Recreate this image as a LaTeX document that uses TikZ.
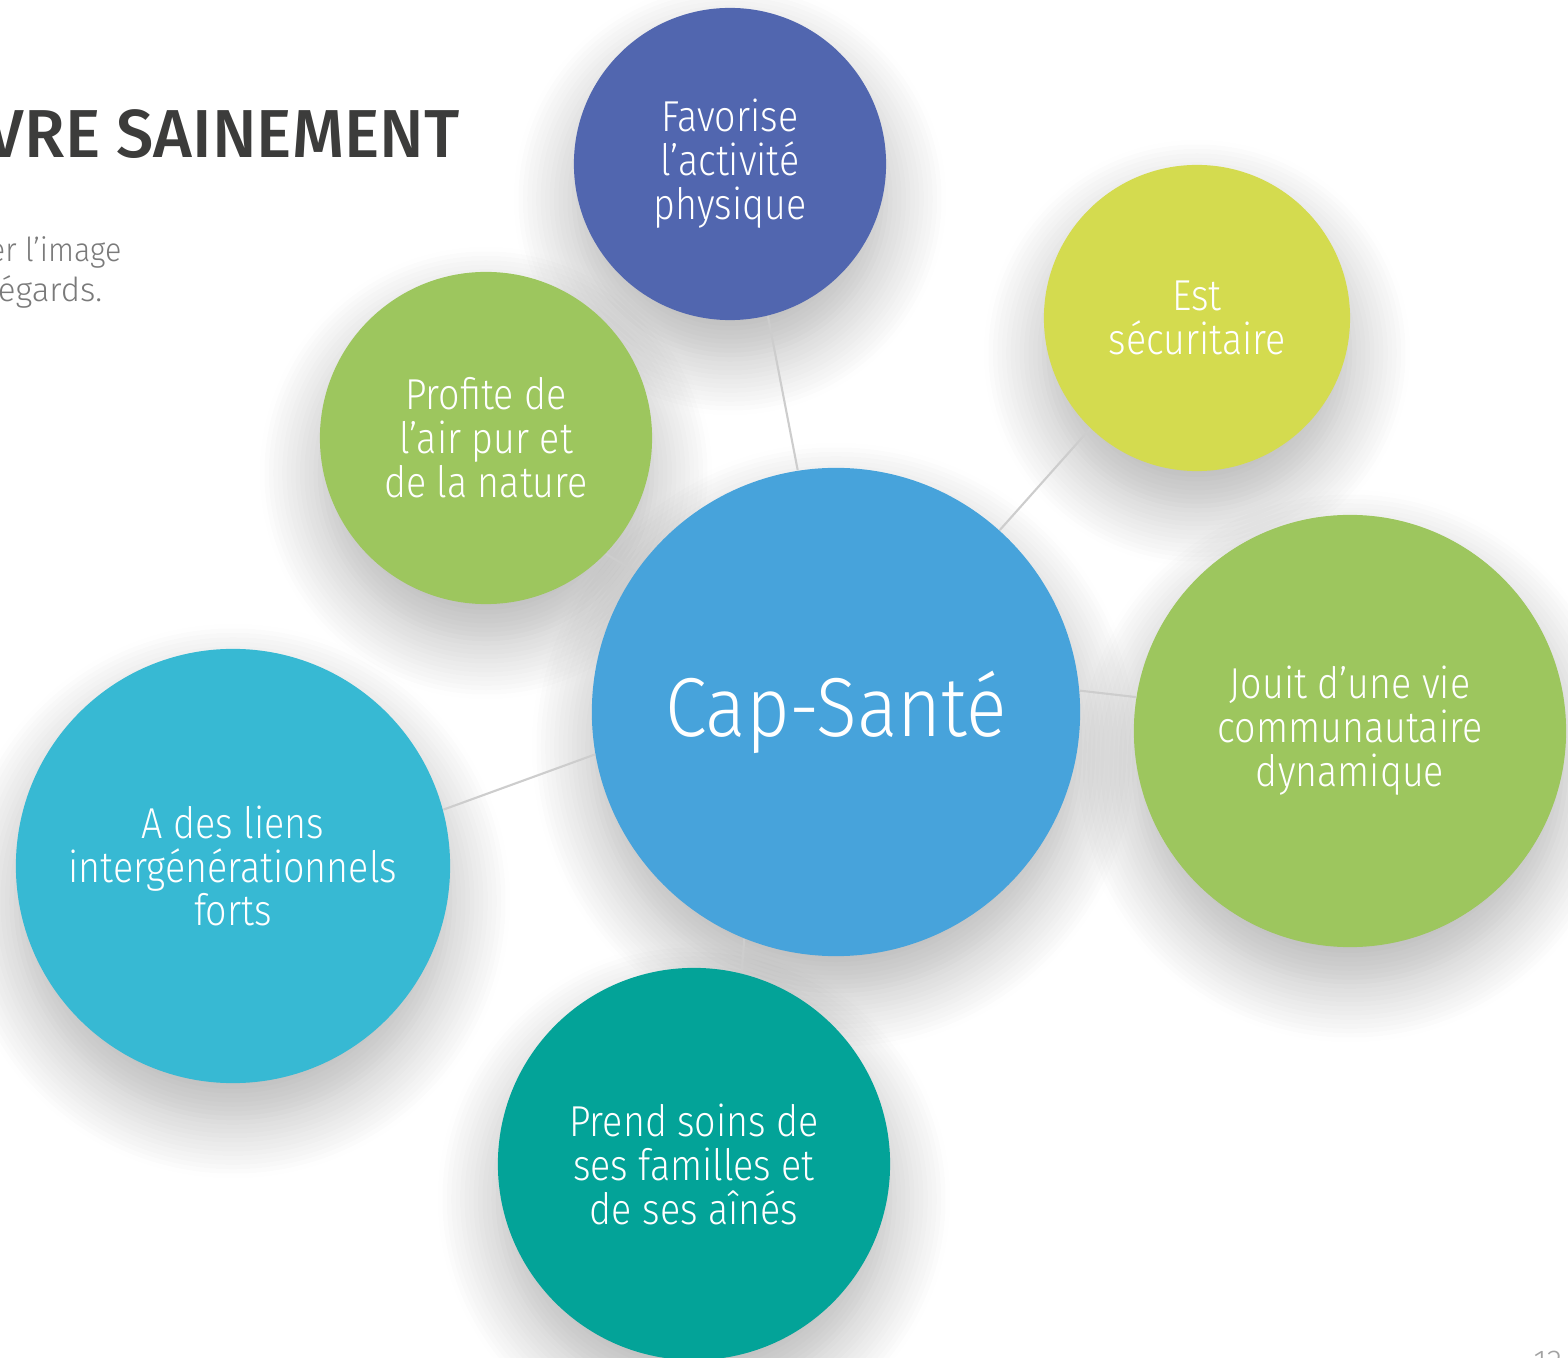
\documentclass[tikz,border=0pt]{standalone}
\usepackage{fontspec}
\setmainfont{Fira Sans}
\newfontfamily\lightfont{Fira Sans Light}[FakeStretch=0.87]
\newfontfamily\capfont{Fira Sans Light}[FakeStretch=0.9]
\newfontfamily\subfont{Fira Sans Light}
\newfontfamily\subfontn{Fira Sans Light}[FakeStretch=0.92]
\newfontfamily\titlefont{Fira Sans Medium}[FakeStretch=0.98]
\usetikzlibrary{shadows.blur}
\pgfdeclarelayer{shadowlayer}
\pgfdeclarelayer{linelayer}
\pgfsetlayers{shadowlayer,linelayer,main}
\definecolor{cfav}{HTML}{5166AF}
\definecolor{cest}{HTML}{D4DB4F}
\definecolor{cgreen}{HTML}{9DC65E}
\definecolor{ccap}{HTML}{47A3DB}
\definecolor{cliens}{HTML}{37B9D3}
\definecolor{cprend}{HTML}{03A398}
\definecolor{cline}{HTML}{CDCDCD}
\definecolor{ctitle}{HTML}{3C3C3B}
\definecolor{csub}{HTML}{7A7A7A}
\tikzset{
  bubble/.style={circle, inner sep=0pt, align=center, text=white,
    font=\lightfont\fontsize{12.3}{12.5}\selectfont},
  link/.style={draw=cline, line width=0.6pt},
  shad/.style={blur shadow={shadow xshift=0cm, shadow yshift=-0.35cm,
    shadow blur radius=0.6cm, shadow opacity=30, shadow blur steps=14}}
}
\begin{document}
\begin{tikzpicture}[x=0.01cm,y=-0.01cm]
\useasboundingbox (0,0) rectangle (1568,1358);
\clip (0,0) rectangle (1568,1358);
\node[anchor=base east, text=ctitle, font=\titlefont\fontsize{19.3}{20}\selectfont, inner sep=0pt] (title) at (460,158) {VIVRE SAINEMENT};
\node[anchor=base east, text=csub, font=\subfontn\fontsize{9.4}{10}\selectfont, inner sep=0pt] (sub1) at (122,262) {er l’image};
\node[anchor=base east, text=csub, font=\subfont\fontsize{9.4}{10}\selectfont, inner sep=0pt] (sub2) at (103,302) {égards.};
\node[anchor=north west, text=csub!70, font=\subfont\fontsize{9}{10}\selectfont, inner sep=0pt] (page) at (1533,1350) {12};

\node[bubble, fill=cfav, minimum size=3.12cm] (fav) at (730,164) {Favorise\\l’activité\\physique};
\node[bubble, fill=cest, minimum size=3.06cm] (est) at (1197,318) {Est\\sécuritaire};
\node[bubble, fill=cgreen, minimum size=3.32cm] (prof) at (486,438) {Profite de\\l’air pur et\\de la nature};
\node[bubble, fill=ccap, minimum size=4.88cm, font=\capfont\fontsize{23.8}{25}\selectfont] (cap) at (836,712) {Cap-Santé};
\node[bubble, fill=cgreen, minimum size=4.32cm] (jouit) at (1350,731) {Jouit d’une vie\\communautaire\\dynamique};
\node[bubble, fill=cliens, minimum size=4.34cm] (liens) at (233,866) {A des liens\\intergénérationnels\\forts};
\node[bubble, fill=cprend, minimum size=3.92cm] (prend) at (694,1164) {Prend soins de\\ses familles et\\de ses aînés};

\begin{pgfonlayer}{shadowlayer}
\path[shad] (fav.center) circle[radius=1.56cm];
\path[shad] (est.center) circle[radius=1.53cm];
\path[shad] (prof.center) circle[radius=1.66cm];
\path[shad] (cap.center) circle[radius=2.44cm];
\path[shad] (jouit.center) circle[radius=2.16cm];
\path[shad] (liens.center) circle[radius=2.17cm];
\path[shad] (prend.center) circle[radius=1.96cm];
\end{pgfonlayer}
\begin{pgfonlayer}{linelayer}
\draw[link] (fav.-76.5) -- (cap.99.6);
\draw[link] (prof.-44) -- (cap.145);
\draw[link] (est.-134) -- (cap.48.6);
\draw[link] (jouit.171.5) -- (cap.5.8);
\draw[link] (liens.15.6) -- (cap.190.7);
\draw[link] (prend.76.6) -- (cap.248.5);
\end{pgfonlayer}
\end{tikzpicture}
\end{document}
